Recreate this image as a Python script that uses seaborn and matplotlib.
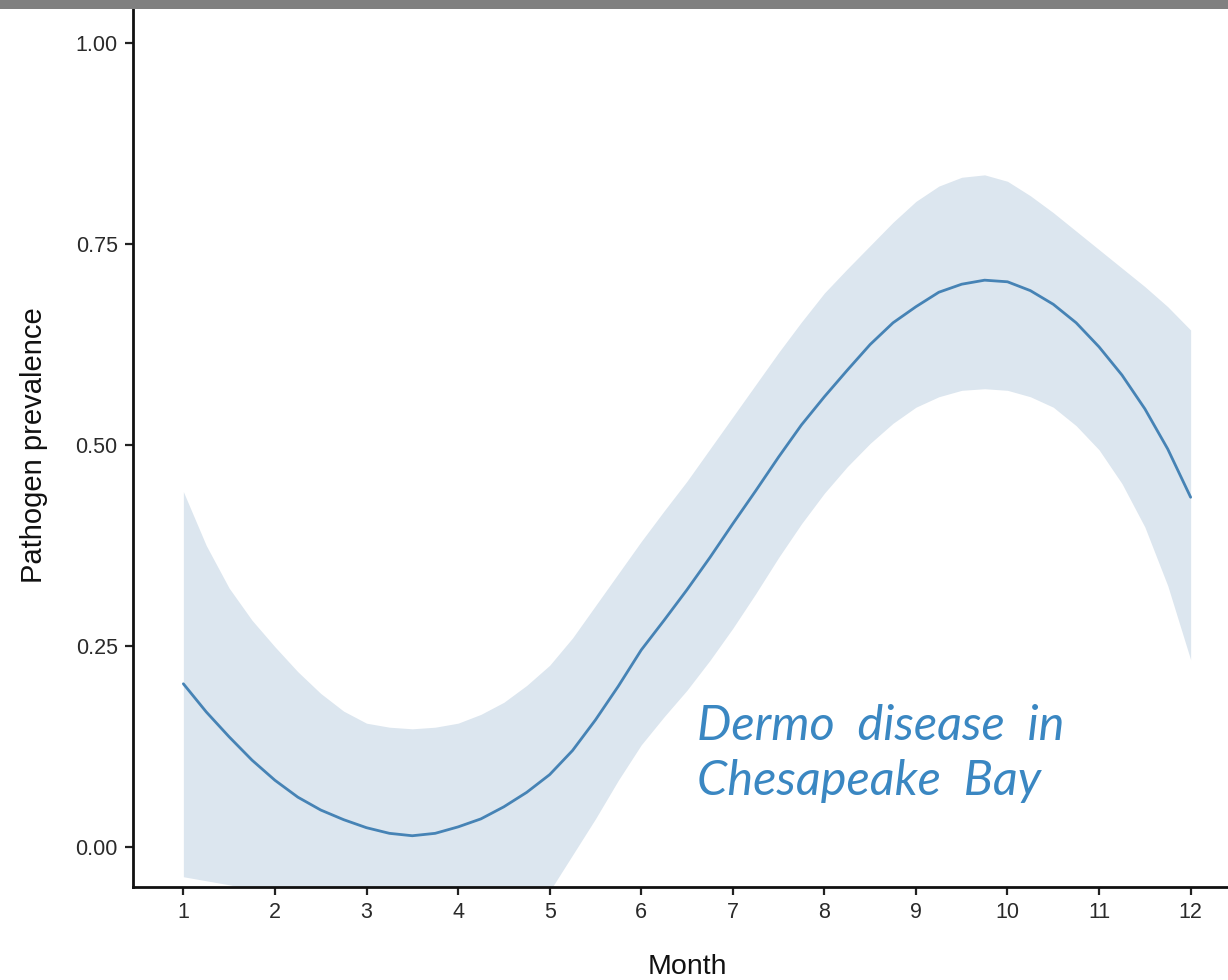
import matplotlib
matplotlib.use("Agg")
import matplotlib.pyplot as plt
import seaborn as sns
import pandas as pd
from matplotlib.patches import Rectangle

months = [1, 1.25, 1.5, 1.75, 2, 2.25, 2.5, 2.75, 3, 3.25, 3.5, 3.75, 4, 4.25, 4.5, 4.75,
          5, 5.25, 5.5, 5.75, 6, 6.25, 6.5, 6.75, 7, 7.25, 7.5, 7.75, 8, 8.25, 8.5, 8.75,
          9, 9.25, 9.5, 9.75, 10, 10.25, 10.5, 10.75, 11, 11.25, 11.5, 11.75, 12]
prevalence = [0.203, 0.168, 0.137, 0.108, 0.083, 0.062, 0.046, 0.034, 0.024, 0.017, 0.014, 0.017,
              0.025, 0.035, 0.050, 0.068, 0.090, 0.120, 0.158, 0.200, 0.245, 0.282, 0.320, 0.360,
              0.402, 0.443, 0.485, 0.525, 0.560, 0.593, 0.625, 0.652, 0.672, 0.690, 0.700, 0.705,
              0.703, 0.692, 0.675, 0.652, 0.622, 0.587, 0.545, 0.495, 0.435]
upper = [0.442, 0.375, 0.322, 0.282, 0.249, 0.218, 0.191, 0.169, 0.154, 0.149, 0.147, 0.149,
         0.154, 0.165, 0.180, 0.201, 0.226, 0.260, 0.300, 0.340, 0.380, 0.418, 0.455, 0.495,
         0.535, 0.575, 0.615, 0.653, 0.689, 0.719, 0.748, 0.777, 0.803, 0.822, 0.833, 0.836,
         0.828, 0.810, 0.789, 0.766, 0.743, 0.720, 0.697, 0.672, 0.643]
lower = [-0.037, -0.042, -0.047, -0.053, -0.060, -0.070, -0.080, -0.090, -0.100, -0.105, -0.110, -0.107,
         -0.100, -0.092, -0.080, -0.068, -0.055, -0.010, 0.035, 0.083, 0.127, 0.162, 0.195, 0.232,
         0.272, 0.315, 0.360, 0.402, 0.440, 0.473, 0.502, 0.527, 0.547, 0.560, 0.568, 0.570,
         0.568, 0.560, 0.547, 0.524, 0.494, 0.452, 0.398, 0.325, 0.233]
x_ticks = list(range(1, 13))
y_ticks = [0.00, 0.25, 0.50, 0.75, 1.00]
y_tick_labels = ["0.00", "0.25", "0.50", "0.75", "1.00"]
annotation_lines = ["Dermo  disease  in", "Chesapeake  Bay"]

sns.set_theme(style="ticks")
plt.rcParams["font.family"] = ["Liberation Sans", "DejaVu Sans"]

df = pd.DataFrame({"Month": months, "Pathogen prevalence": prevalence})

W, H = 1228, 980
fig = plt.figure(figsize=(W / 100, H / 100), dpi=100)
ax = fig.add_axes([133 / W, (H - 887.2) / H, (1241 - 133) / W, (887.2 - 2.8) / H])

ax.fill_between(months, lower, upper, color="#dce6ef", linewidth=0, zorder=1)
sns.lineplot(data=df, x="Month", y="Pathogen prevalence", ax=ax, color="#4683b5", linewidth=2.0, zorder=2)

ax.set_xlim(0.45, 12.55)
ax.set_ylim(-0.05, 1.05)
ax.set_xticks(x_ticks)
ax.set_xticklabels([str(t) for t in x_ticks])
ax.set_yticks(y_ticks)
ax.set_yticklabels(y_tick_labels)

for s in ["top", "right"]:
    ax.spines[s].set_visible(False)
for s in ["left", "bottom"]:
    ax.spines[s].set_linewidth(2.0)
    ax.spines[s].set_color("#111111")

ax.tick_params(axis="both", length=6, width=1.6, color="#222222", labelsize=15.5, labelcolor="#2a2a2a", pad=5)
ax.set_xlabel("Month", fontsize=20.5, color="#111111", labelpad=22)
ax.set_ylabel("Pathogen prevalence", fontsize=21, color="#111111", labelpad=20)

ann_font = dict(family=["Lato", "DejaVu Sans"], style="italic", weight="normal", fontsize=35, color="#3a87c2")
ax.text(6.61, 0.133, annotation_lines[0], va="baseline", ha="left", **ann_font, zorder=3)
ax.text(6.61, 0.0647, annotation_lines[1], va="baseline", ha="left", **ann_font, zorder=3)

fig.patches.append(Rectangle((0, 1 - 9 / H), 1, 9 / H, transform=fig.transFigure,
                             facecolor="#808080", edgecolor="none", zorder=10))

fig.savefig("out.png", dpi=100)
